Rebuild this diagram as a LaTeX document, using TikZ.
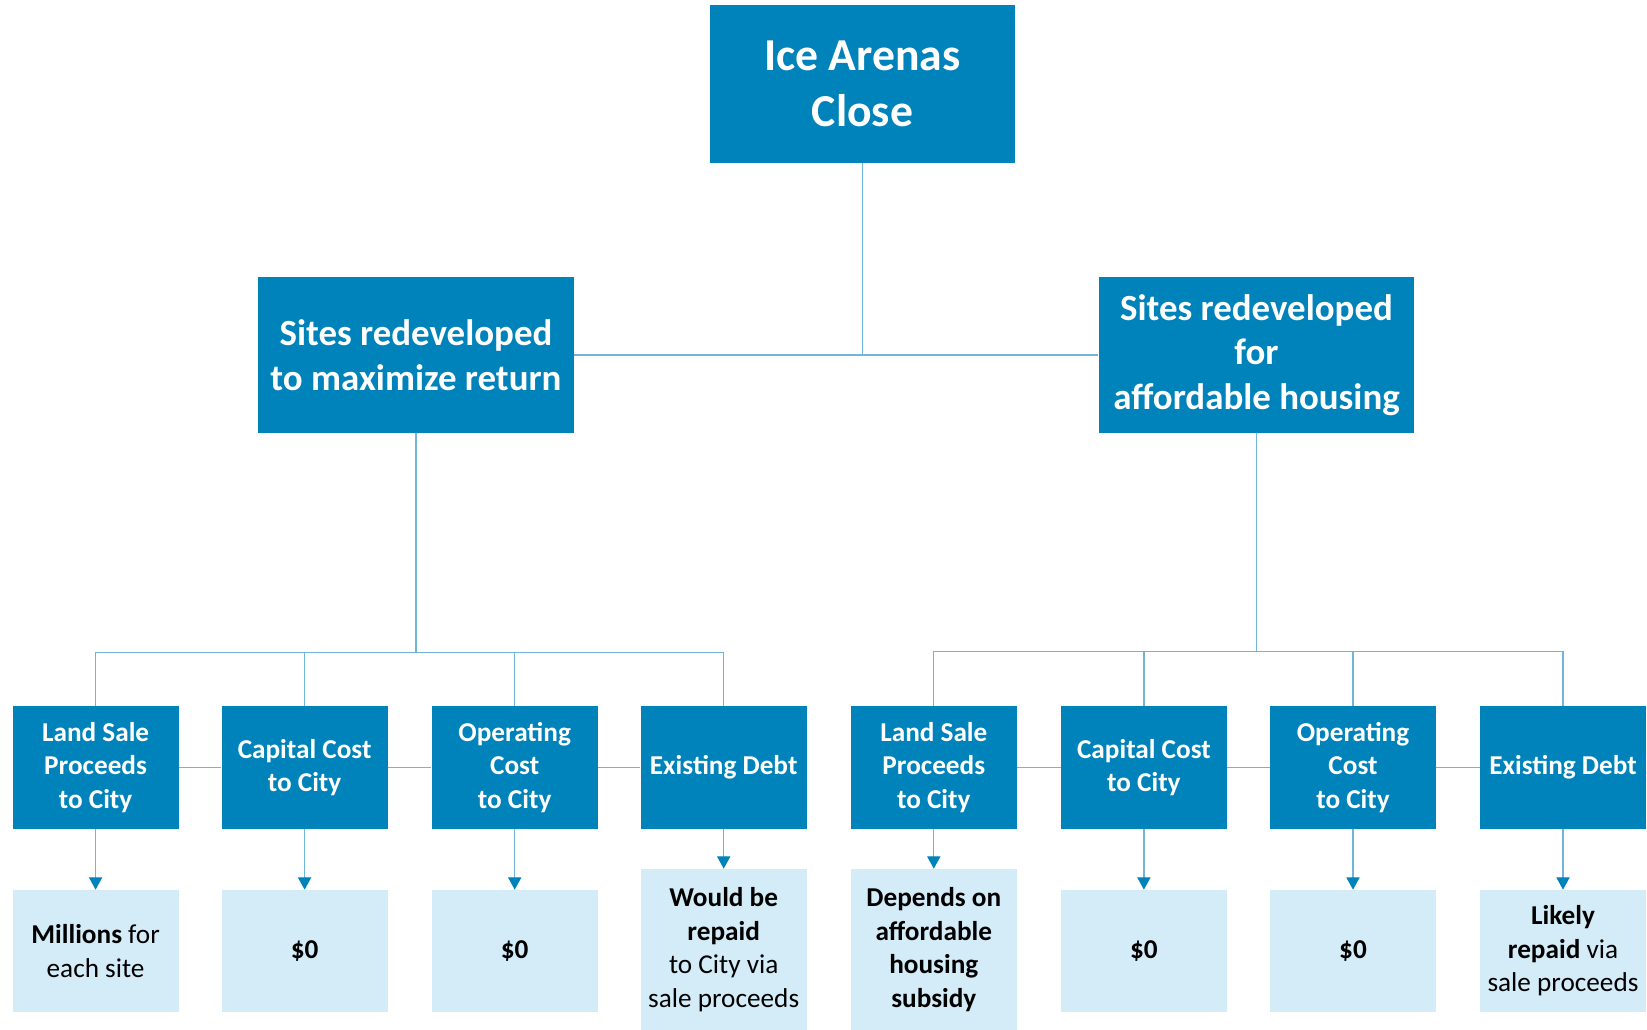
\documentclass[tikz,border=0pt]{standalone}
\usepackage{fontspec}
\setmainfont{Carlito}
\usetikzlibrary{arrows.meta}
\definecolor{arenablue}{RGB}{0,131,186}
\definecolor{palebox}{RGB}{211,236,247}
\definecolor{linkblue}{RGB}{112,182,218}
\begin{document}
\begin{tikzpicture}[x=0.02cm, y=-0.02cm,
		every node/.style={rectangle, align=center, inner sep=0pt},
		topbox/.style={fill=arenablue, text=white, font=\bfseries\fontsize{26}{32}\selectfont, minimum width=6.1cm, minimum height=3.16cm},
		midbox/.style={fill=arenablue, text=white, font=\bfseries\fontsize{21}{25.5}\selectfont, minimum width=6.32cm, minimum height=3.12cm},
		itembox/.style={fill=arenablue, text=white, font=\bfseries\fontsize{15.5}{19.1}\selectfont, minimum width=3.32cm, minimum height=2.46cm},
		valbox/.style={fill=palebox, text=black, font=\fontsize{15.5}{19.1}\selectfont, minimum width=3.32cm, minimum height=2.44cm},
		tallbox/.style={valbox, minimum height=3.22cm},
		link/.style={draw=linkblue, line width=0.7pt},
		arrow/.style={link, -{Triangle[width=7.5pt, length=7pt, color=arenablue]}},
	]
	\useasboundingbox (0,0) rectangle (1647,1030);
	\node[topbox] (top) at (862.5, 84) {Ice Arenas\\Close};
	\node[midbox] (ret) at (416, 355) {Sites redeveloped\\to maximize return};
	\node[midbox] (aff) at (1256.5, 355) {Sites redeveloped\\for\\affordable housing};
	% items under each option
	\node[itembox] (r1) at (95.6, 767.5) {Land Sale\\Proceeds\\to City};
	\node[itembox] (r2) at (304.6, 767.5) {Capital Cost\\to City};
	\node[itembox] (r3) at (514.7, 767.5) {Operating\\Cost\\to City};
	\node[itembox] (r4) at (723.7, 767.5) {Existing Debt};
	\node[itembox] (a1) at (933.8, 767.5) {Land Sale\\Proceeds\\to City};
	\node[itembox] (a2) at (1143.9, 767.5) {Capital Cost\\to City};
	\node[itembox] (a3) at (1353, 767.5) {Operating\\Cost\\to City};
	\node[itembox] (a4) at (1563, 767.5) {Existing Debt};
	% values
	\node[valbox] (rv1) at (95.6, 951) {\textbf{Millions} for\\each site};
	\node[valbox] (rv2) at (304.6, 951) {\textbf{\$0}};
	\node[valbox] (rv3) at (514.7, 951) {\textbf{\$0}};
	\node[tallbox] (rv4) at (723.7, 949.5) {\textbf{Would be}\\\textbf{repaid}\\to City via\\sale proceeds};
	\node[tallbox] (av1) at (933.8, 949.5) {\textbf{Depends on}\\\textbf{affordable}\\\textbf{housing}\\\textbf{subsidy}};
	\node[valbox] (av2) at (1143.9, 951) {\textbf{\$0}};
	\node[valbox] (av3) at (1353, 951) {\textbf{\$0}};
	\node[valbox] (av4) at (1563, 951) {\textbf{Likely}\\\textbf{repaid} via\\sale proceeds};
	\draw[link] (top.south) |- (ret.east);
	\draw[link] (top.south) |- (aff.west);
	\foreach \c in {r1,r2,r3,r4}
		\draw[link] (ret.south) -- ++(0,219) -| (\c.north);
	\foreach \c in {a1,a2,a3,a4}
		\draw[link] (aff.south) -- ++(0,218) -| (\c.north);
	\draw[link] (r1) -- (r2);
	\draw[link] (r2) -- (r3);
	\draw[link] (r3) -- (r4);
	\draw[link] (a1) -- (a2);
	\draw[link] (a2) -- (a3);
	\draw[link] (a3) -- (a4);
	\foreach \i in {1,2,3,4} {
		\draw[arrow] (r\i) -- (rv\i);
		\draw[arrow] (a\i) -- (av\i);
	}
\end{tikzpicture}
\end{document}
